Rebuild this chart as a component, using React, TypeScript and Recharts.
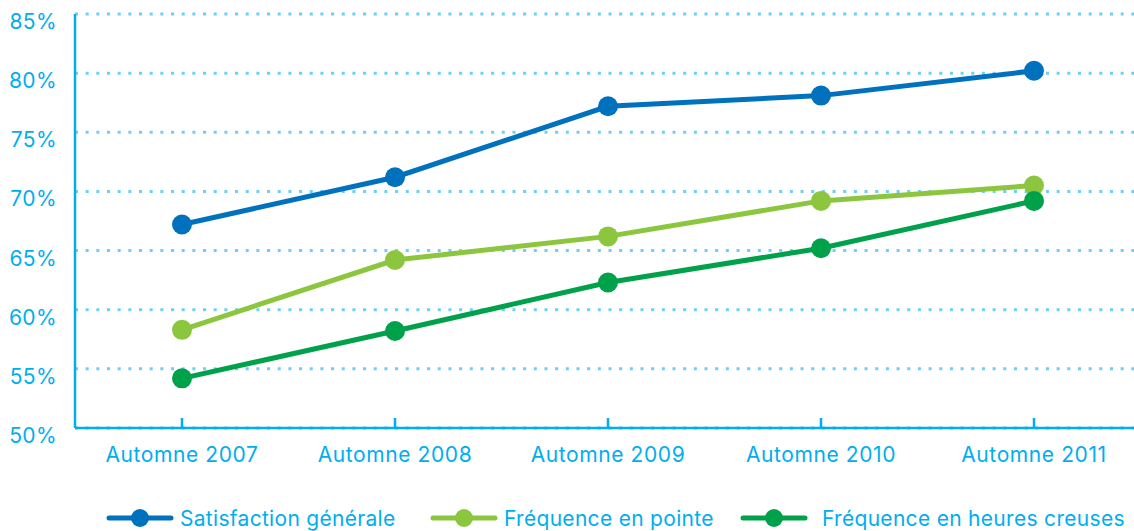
import { CartesianGrid, Legend, Line, LineChart, XAxis, YAxis } from "recharts";

const seasons = ["Automne 2007", "Automne 2008", "Automne 2009", "Automne 2010", "Automne 2011"];
const satisfaction = [67.2, 71.2, 77.2, 78.1, 80.2];
const pointe = [58.3, 64.2, 66.2, 69.2, 70.5];
const creuses = [54.2, 58.2, 62.3, 65.2, 69.2];
const yTicks = [50, 55, 60, 65, 70, 75, 80, 85];

const series = [
  { key: "satisfaction", name: "Satisfaction générale", color: "#0071bc" },
  { key: "pointe", name: "Fréquence en pointe", color: "#8cc63f" },
  { key: "creuses", name: "Fréquence en heures creuses", color: "#00a14b" },
];

const data = seasons.map((season, i) => ({
  season,
  satisfaction: satisfaction[i],
  pointe: pointe[i],
  creuses: creuses[i],
}));

const AXIS = "#00aeef";
const FONT = "Inter, 'Liberation Sans', sans-serif";
const legendItemWidths = [324, 310, 392];

function XTick({ x, y, payload }: any) {
  return (
    <g>
      <line x1={x} x2={x} y1={y} y2={y - 10} stroke={AXIS} strokeWidth={2.5} />
      <text x={x} y={y + 34} textAnchor="middle" fill={AXIS} fontSize={21} fontFamily={FONT} letterSpacing={0.6}>
        {payload.value}
      </text>
    </g>
  );
}

function YTick({ x, y, payload }: any) {
  return (
    <text x={x - 18} y={y + 15} textAnchor="end" fill={AXIS} fontSize={21} fontFamily={FONT} letterSpacing={0.4}>
      {payload.value}%
    </text>
  );
}

function LegendContent() {
  return (
    <div
      style={{
        height: 53,
        display: "flex",
        alignItems: "flex-end",
        paddingLeft: 106,
        fontFamily: FONT,
        fontSize: 21,
        color: AXIS,
        letterSpacing: 0.3,
        whiteSpace: "nowrap",
      }}
    >
      {series.map((s, i) => (
        <div key={s.key} style={{ display: "flex", alignItems: "center", width: legendItemWidths[i], height: 26 }}>
          <svg width={68} height={20} style={{ marginRight: i === 2 ? 14 : 6 }}>
            <line x1={3} x2={65} y1={10} y2={10} stroke={s.color} strokeWidth={5} strokeLinecap="round" />
            <circle cx={34} cy={10} r={9} fill={s.color} />
          </svg>
          <span>{s.name}</span>
        </div>
      ))}
    </div>
  );
}

export default function App() {
  return (
    <div style={{ position: "absolute", left: 0, top: 0, width: 1134, height: 531, overflow: "hidden", background: "#fff" }}>
      <LineChart width={1150} height={531} data={data} margin={{ top: 14, right: 9, left: 0, bottom: 0 }}>
        <CartesianGrid vertical={false} stroke="#6dcff6" strokeWidth={3} strokeDasharray="3 7.67" />
        <XAxis
          dataKey="season"
          height={50}
          tickSize={0}
          tickMargin={0}
          tickLine={false}
          padding={{ left: 107, right: 107 }}
          axisLine={{ stroke: AXIS, strokeWidth: 2.5 }}
          tick={<XTick />}
          interval={0}
        />
        <YAxis
          width={75}
          domain={[50, 85]}
          ticks={yTicks}
          tickSize={0}
          tickMargin={0}
          tickLine={false}
          axisLine={{ stroke: AXIS, strokeWidth: 2.5 }}
          tick={<YTick />}
        />
        <Legend verticalAlign="bottom" height={53} content={<LegendContent />} />
        {series.map((s) => (
          <Line
            key={s.key}
            dataKey={s.key}
            name={s.name}
            stroke={s.color}
            strokeWidth={5}
            dot={{ r: 10, fill: s.color, stroke: "none" }}
            activeDot={false}
            isAnimationActive={false}
          />
        ))}
      </LineChart>
    </div>
  );
}
